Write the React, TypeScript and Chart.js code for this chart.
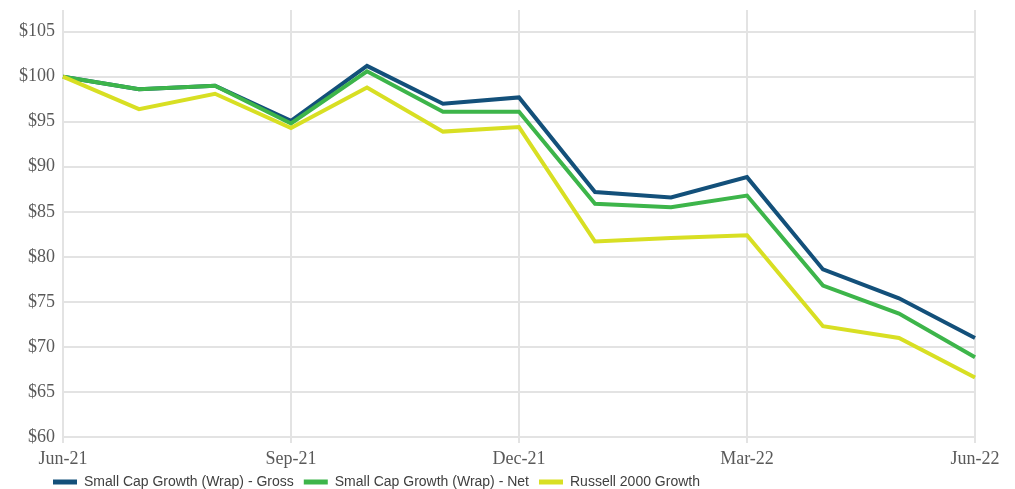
import React, { useEffect, useRef } from "react";
import { Chart, registerables } from "chart.js";

Chart.register(...registerables);

const months = [
  "Jun-21", "Jul-21", "Aug-21", "Sep-21", "Oct-21", "Nov-21", "Dec-21",
  "Jan-22", "Feb-22", "Mar-22", "Apr-22", "May-22", "Jun-22",
];
const grossValues = [100, 98.6, 99.0, 95.1, 101.2, 97.0, 97.7, 87.2, 86.6, 88.85, 78.6, 75.4, 71.0];
const netValues = [100, 98.6, 99.0, 94.8, 100.6, 96.1, 96.1, 85.9, 85.5, 86.8, 76.8, 73.7, 68.85];
const russellValues = [100, 96.4, 98.1, 94.3, 98.8, 93.9, 94.4, 81.7, 82.1, 82.4, 72.3, 71.0, 66.6];
const seriesNames = [
  "Small Cap Growth (Wrap) - Gross",
  "Small Cap Growth (Wrap) - Net",
  "Russell 2000 Growth",
];
const seriesColors = ["#13507a", "#3db54a", "#d8df23"];
const yTicksMin = 60;
const yTicksMax = 105;
const yStep = 5;

const legendShift = {
  id: "legendShift",
  afterLayout(chart: any) {
    const lg = chart.legend;
    if (lg) {
      lg.left += 43;
      lg.right += 43;
      lg.top -= 8;
      lg.bottom -= 8;
    }
  },
};

export default function App() {
  const ref = useRef<HTMLCanvasElement | null>(null);

  useEffect(() => {
    if (!ref.current) return;
    const data = [grossValues, netValues, russellValues];
    const chart = new Chart(ref.current, {
      type: "line",
      data: {
        labels: months,
        datasets: data.map((vals, i) => ({
          label: seriesNames[i],
          data: vals,
          borderColor: seriesColors[i],
          backgroundColor: seriesColors[i],
          borderWidth: 4,
          pointRadius: 0,
          tension: 0,
          fill: false,
          order: 3 - i,
        })),
      },
      plugins: [legendShift],
      options: {
        responsive: false,
        animation: false,
        layout: { padding: { left: 0, right: 40, top: 10, bottom: -18 } },
        plugins: {
          tooltip: { enabled: false },
          legend: {
            position: "bottom",
            align: "start",
            labels: {
              boxWidth: 24,
              boxHeight: 5,
              padding: 10,
              color: "#404040",
              font: { family: "'Liberation Sans', Arial, sans-serif", size: 14 },
              useBorderRadius: true,
              borderRadius: 2.5,
              generateLabels: (c: any) =>
                c.data.datasets.map((d: any, i: number) => ({
                  text: d.label,
                  fillStyle: seriesColors[i],
                  strokeStyle: seriesColors[i],
                  lineWidth: 0,
                  hidden: false,
                  datasetIndex: i,
                  fontColor: "#404040",
                })),
            },
          },
        },
        scales: {
          x: {
            offset: false,
            border: { display: false },
            grid: {
              color: (ctx: any) => (ctx.index % 3 === 0 ? "#e3e3e3" : "rgba(0,0,0,0)"),
              lineWidth: 2,
              drawTicks: true,
              tickLength: 6,
            },
            ticks: {
              autoSkip: false,
              maxRotation: 0,
              padding: 5,
              color: "#595959",
              font: { family: "'Liberation Serif', serif", size: 18 },
              callback: (_v: any, i: number) => (i % 3 === 0 ? months[i] : ""),
            },
            afterFit: (s: any) => {
              s.height = 36;
              s.paddingLeft = 0;
              s.paddingRight = 0;
            },
          },
          y: {
            min: yTicksMin,
            max: 107.4,
            border: { display: false },
            grid: { color: "#e3e3e3", lineWidth: 2, drawTicks: false },
            ticks: {
              stepSize: yStep,
              padding: 8,
              color: "#595959",
              font: { family: "'Liberation Serif', serif", size: 18 },
              callback: (v: any) => "$" + v,
            },
            afterBuildTicks: (s: any) => {
              s.ticks = s.ticks.filter(
                (t: any) => t.value % yStep === 0 && t.value <= yTicksMax
              );
            },
            afterFit: (s: any) => {
              s.width = 63;
              s.paddingTop = 0;
              s.paddingBottom = 0;
            },
          },
        },
      },
    });
    return () => chart.destroy();
  }, []);

  return (
    <div style={{ position: "absolute", left: 0, top: 0, width: 1015, height: 489, background: "#fff" }}>
      <canvas ref={ref} width={1015} height={489} />
    </div>
  );
}
